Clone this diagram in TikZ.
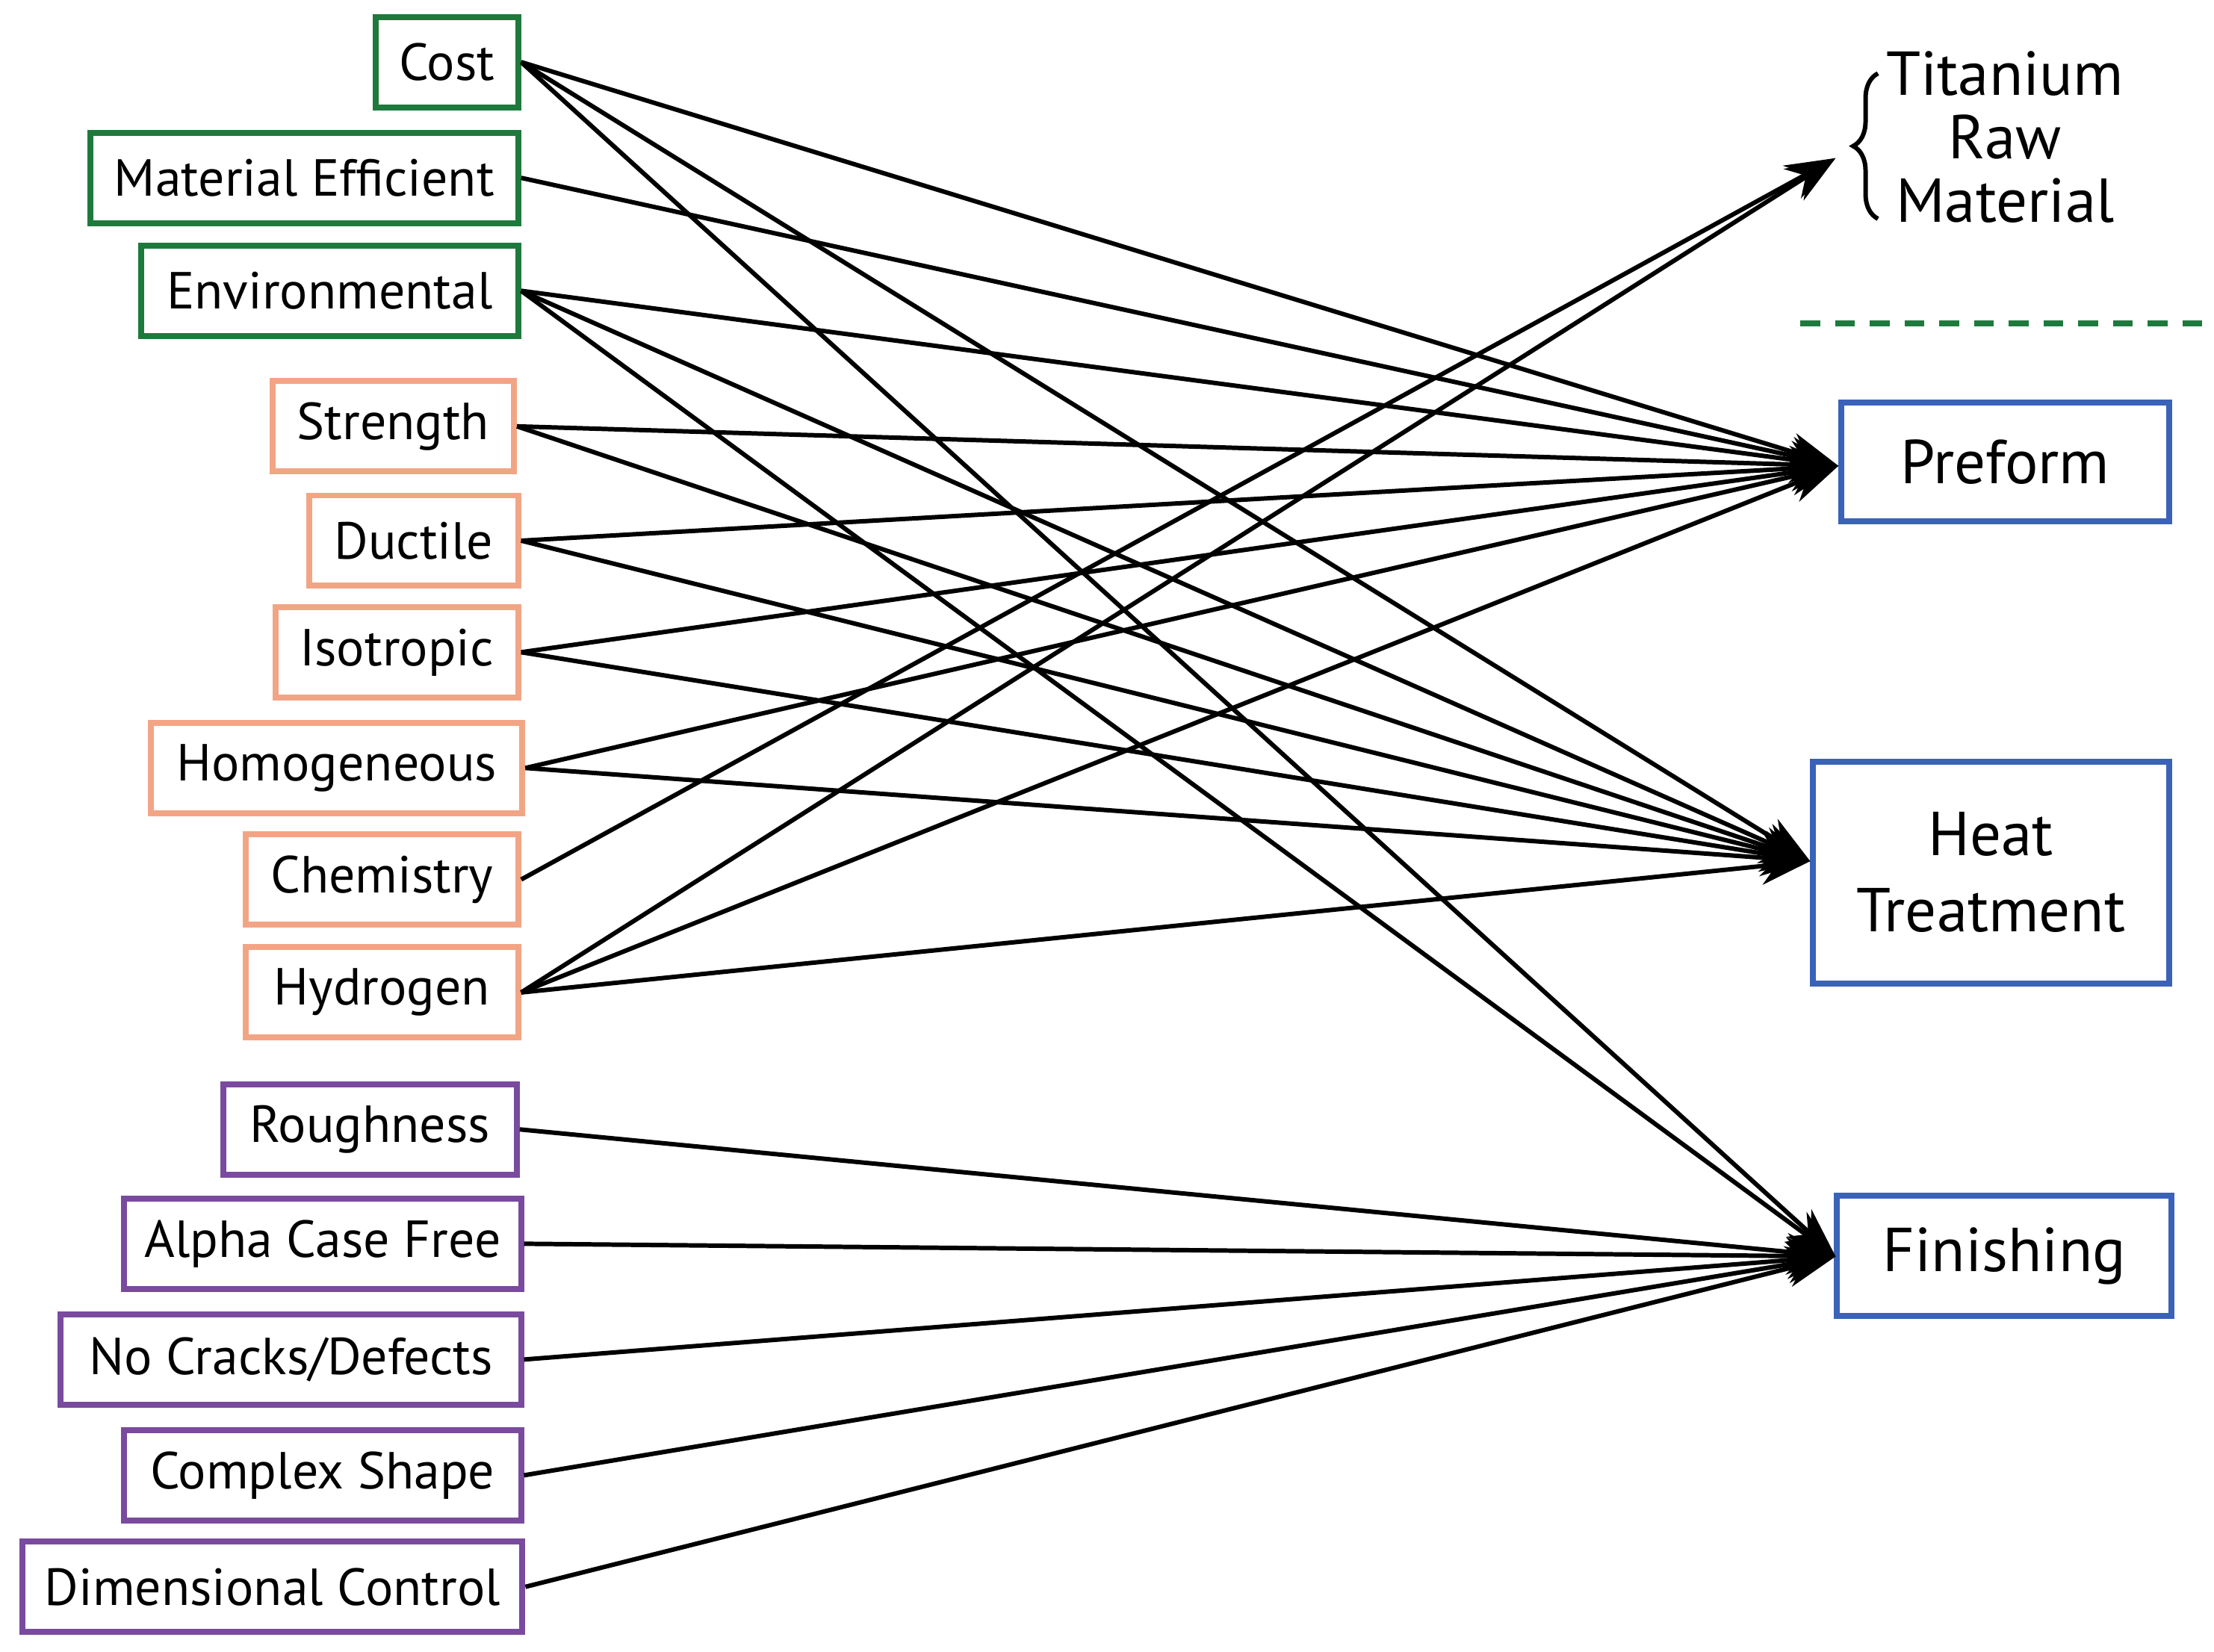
\documentclass[tikz,border=0pt]{standalone}
\usepackage{fontspec}
\setmainfont{PT Sans}
\usetikzlibrary{arrows.meta,decorations.pathreplacing}
\definecolor{boxgreen}{HTML}{1E7A3C}
\definecolor{boxsalmon}{HTML}{F2A585}
\definecolor{boxpurple}{HTML}{7A4A9E}
\definecolor{boxblue}{HTML}{3A62B8}
\tikzset{
  req/.style={draw, line width=1.2pt, minimum height=0.64cm, inner sep=0pt, font=\fontsize{10.5}{12}\selectfont},
  gbox/.style={req, draw=boxgreen},
  sbox/.style={req, draw=boxsalmon},
  pbox/.style={req, draw=boxpurple},
  stepbox/.style={draw=boxblue, line width=1.2pt, inner sep=0pt, align=center, font=\fontsize{12.5}{15.3}\selectfont},
  link/.style={line width=0.9pt, -{Stealth[length=10pt,width=7.5pt]}}
}
\begin{document}
\begin{tikzpicture}
\useasboundingbox (0,0) rectangle (15.68,-11.70);
% requirements
\node[gbox, minimum width=1.01cm] (cost) at (3.165,-0.44) {Cost};
\node[gbox, minimum width=3.03cm] (mateff) at (2.155,-1.26) {Material Efficient};
\node[gbox, minimum width=2.67cm] (env) at (2.335,-2.06) {Environmental};
\node[sbox, minimum width=1.71cm] (strength) at (2.785,-3.02) {Strength};
\node[sbox, minimum width=1.48cm] (ductile) at (2.93,-3.83) {Ductile};
\node[sbox, minimum width=1.72cm] (iso) at (2.81,-4.62) {Isotropic};
\node[sbox, minimum width=2.63cm] (homog) at (2.385,-5.44) {Homogeneous};
\node[sbox, minimum width=1.93cm] (chem) at (2.705,-6.23) {Chemistry};
\node[sbox, minimum width=1.93cm] (hydro) at (2.705,-7.03) {Hydrogen};
\node[pbox, minimum width=2.08cm] (rough) at (2.62,-8.00) {Roughness};
\node[pbox, minimum width=2.81cm] (alpha) at (2.285,-8.81) {Alpha Case Free};
\node[pbox, minimum width=3.26cm] (cracks) at (2.06,-9.63) {No Cracks/Defects};
\node[pbox, minimum width=2.81cm] (shape) at (2.285,-10.45) {Complex Shape};
\node[pbox, minimum width=3.54cm] (dim) at (1.93,-11.24) {Dimensional Control};
% process steps
\node[stepbox, minimum width=2.32cm, minimum height=0.84cm] (preform) at (14.20,-3.27) {Preform};
\node[stepbox, minimum width=2.52cm, minimum height=1.57cm] (heat) at (14.10,-6.18) {Heat\\Treatment};
\node[stepbox, minimum width=2.37cm, minimum height=0.85cm] (finish) at (14.195,-8.895) {Finishing};
\node[align=center, font=\fontsize{12.5}{12.8}\selectfont] (titanium) at (14.20,-0.97) {Titanium\\Raw\\Material};
\draw[line width=0.9pt, decoration={brace,amplitude=5pt}, decorate] (13.30,-1.55) -- (13.30,-0.52);
\draw[boxgreen, line width=1.2pt, dash pattern=on 4pt off 3pt] (12.75,-2.29) -- (15.60,-2.29);
% arrow ends
\coordinate (tTi) at (13.00,-1.12);
\coordinate (tPre) at (13.02,-3.30);
\coordinate (tHeat) at (12.82,-6.10);
\coordinate (tFin) at (13.00,-8.90);
% links
\foreach \s/\t in {cost/tPre, cost/tHeat, cost/tFin, mateff/tPre,
  env/tPre, env/tHeat, env/tFin, strength/tPre, strength/tHeat,
  ductile/tPre, ductile/tHeat, iso/tPre, iso/tHeat, homog/tPre, homog/tHeat,
  chem/tTi, hydro/tTi, hydro/tPre, hydro/tHeat,
  rough/tFin, alpha/tFin, cracks/tFin, shape/tFin, dim/tFin}
  \draw[link] (\s.east) -- (\t);
\end{tikzpicture}
\end{document}
